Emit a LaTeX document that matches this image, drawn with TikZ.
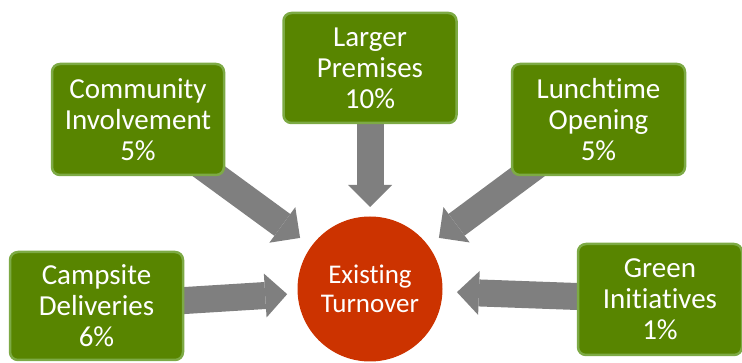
\documentclass[tikz,border=0pt]{standalone}
\usepackage{fontspec}
\setmainfont{Carlito}[Ligatures=NoCommon]
\usetikzlibrary{arrows.meta}
\definecolor{boxfill}{HTML}{588500}
\definecolor{boxedge}{HTML}{7DAA45}
\definecolor{circfill}{HTML}{CC3300}
\definecolor{arrowgray}{HTML}{7F7F7F}
\newcommand{\nl}{\kern0pt\relax}
\tikzset{
  box/.style={draw=boxedge, line width=2.5pt, fill=boxfill, rounded corners=8pt,
    text=white, align=center, inner sep=0pt,
    font=\fontsize{29}{31}\selectfont},
  hub/.style={circle, fill=circfill, text=white, align=center, inner sep=0pt,
    minimum size=145pt, font=\fontsize{27}{28.5}\selectfont},
  bigarrow/.style={draw=arrowgray, line width=27pt,
    -{Triangle[width=44pt,length=22pt,line width=0pt]}}
}
\begin{document}
\begin{tikzpicture}[x=1pt,y=-1pt]
\useasboundingbox (0,0) rectangle (742,363);
% hub
\node[hub] (hub) at (370,289) {Exist\nl ing\\Turnover};
% box positions
\coordinate (pLarge) at (370,68);
\coordinate (pComm) at (138,119.5);
\coordinate (pLunch) at (598.5,119.5);
\coordinate (pCamp) at (96.5,306);
\coordinate (pGreen) at (660,299.5);
% arrows (drawn first; boxes cover their tails)
\draw[bigarrow, shorten >=82pt] (pLarge) -- (hub.center);
\draw[bigarrow, shorten >=86.6pt] (pComm) -- (hub.center);
\draw[bigarrow, shorten >=85.8pt] (pLunch) -- (hub.center);
\draw[bigarrow, shorten >=83pt] (pCamp) -- (hub.center);
\draw[bigarrow, shorten >=87pt] (pGreen) -- (hub.center);
% boxes
\node[box, minimum width=173pt, minimum height=110pt] (large) at (pLarge) {Larger\\Premises\\10\%};
\node[box, minimum width=172pt, minimum height=111pt] (comm) at (pComm) {Community\\Involvement\\5\%};
\node[box, minimum width=173pt, minimum height=111pt] (lunch) at (pLunch) {Luncht\nl ime\\Opening\\5\%};
\node[box, minimum width=173pt, minimum height=108pt] (camp) at (pCamp) {Campsite\\Deliveries\\6\%};
\node[box, minimum width=164pt, minimum height=111pt] (green) at (pGreen) {Green\\Init\nl iat\nl ives\\1\%};
\end{tikzpicture}
\end{document}
